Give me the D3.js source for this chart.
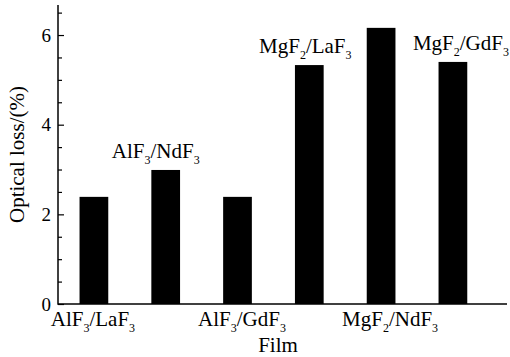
<!DOCTYPE html>
<html><head><meta charset="utf-8">
<script src="https://cdn.jsdelivr.net/npm/d3@7"></script>
<style>body{margin:0;background:#fff}svg{display:block}text{font-family:"Liberation Serif","Times New Roman",serif;fill:#000}</style>
</head><body><svg id="c" width="510" height="357"></svg>
<script>
// data
const films = [
  ["AlF","3","/LaF","3"],
  ["AlF","3","/NdF","3"],
  ["AlF","3","/GdF","3"],
  ["MgF","2","/LaF","3"],
  ["MgF","2","/NdF","3"],
  ["MgF","2","/GdF","3"]
];
const categories = ["AlF3/LaF3","AlF3/NdF3","AlF3/GdF3","MgF2/LaF3","MgF2/NdF3","MgF2/GdF3"];
const values = [2.39, 2.99, 2.39, 5.33, 6.16, 5.40];
const majorTicks = [0, 2, 4, 6];
const minorTicks = [0.5,1,1.5,2.5,3,3.5,4.5,5,5.5,6.5];
const yTitle = "Optical loss/(%)";
const xTitle = "Film";

const svg = d3.select("#c");
const L = 58, B = 304, T = 5, R = 507;
const step = 71.8;
const labelShift = [-1, -10, 4.5, -4, 9, 8];
const x = d3.scaleBand().domain(categories).range([L, L + step*categories.length]).paddingInner(0.6).paddingOuter(0.3);
const y = d3.scaleLinear().domain([0, 6.67]).range([B, T]);

// bars
svg.selectAll("rect.bar").data(values).enter().append("rect")
  .attr("x", (d,i)=>x(categories[i])).attr("width", x.bandwidth())
  .attr("y", d=>y(d)).attr("height", d=>B-y(d)).attr("fill","#000");

// y axis
const ya = svg.append("g").attr("transform",`translate(${L},0)`)
  .call(d3.axisRight(y).tickValues(majorTicks).tickSize(6).tickFormat(""));
ya.select(".domain").remove();
ya.selectAll("line").attr("stroke","#000").attr("stroke-width",1.2);
const ym = svg.append("g").attr("transform",`translate(${L},0)`)
  .call(d3.axisRight(y).tickValues(minorTicks).tickSize(4).tickFormat(""));
ym.select(".domain").remove();
ym.selectAll("line").attr("stroke","#000").attr("stroke-width",1.2);
svg.selectAll("text.yt").data(majorTicks).enter().append("text")
  .attr("x", L-7).attr("y", d=>y(d)).attr("dy","0.35em").attr("text-anchor","end")
  .attr("font-size",19).text(d=>d);

// axis lines
svg.append("line").attr("x1",L).attr("x2",L).attr("y1",T).attr("y2",B+0.75).attr("stroke","#000").attr("stroke-width",1.5);
svg.append("line").attr("x1",L).attr("x2",R).attr("y1",B).attr("y2",B).attr("stroke","#000").attr("stroke-width",1.5);

// labels
function label(i, yy){
  const t = svg.append("text").attr("x", x(categories[i]) + x.bandwidth()/2 + labelShift[i]).attr("y", yy)
    .attr("text-anchor","middle").attr("font-size",21);
  const p = films[i];
  t.append("tspan").text(p[0]);
  t.append("tspan").attr("font-size",12).attr("dy",6).text(p[1]);
  t.append("tspan").attr("dy",-6).text(p[2]);
  t.append("tspan").attr("font-size",12).attr("dy",6).text(p[3]);
}
values.forEach((v,i)=>{
  if(i%2===0) label(i, 326);
  else label(i, y(v)-12);
});

svg.append("text").attr("x",278).attr("y",352).attr("text-anchor","middle").attr("font-size",21).text(xTitle);
svg.append("text").attr("transform",`translate(24,${(T+B)/2}) rotate(-90)`).attr("text-anchor","middle").attr("font-size",21).text(yTitle);
</script></body></html>
